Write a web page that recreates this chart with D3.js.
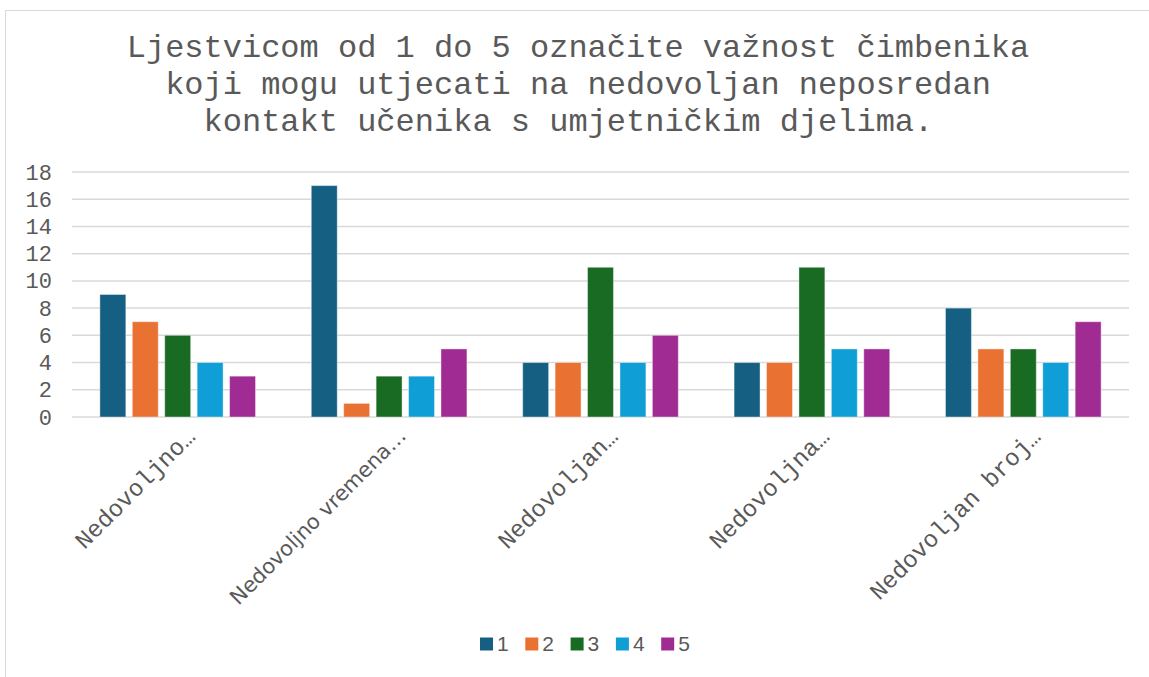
<!DOCTYPE html>
<html>
<head>
<meta charset="utf-8">
<script src="https://cdn.jsdelivr.net/npm/d3@7"></script>
<style>
  body { margin: 0; background: #fff; }
  text { fill: #595959; }
</style>
</head>
<body>
<div id="chart-area"></div>
<script>
var width = 1149,
    height = 677;

var titleLines = [
    "Ljestvicom od 1 do 5 označite važnost čimbenika",
    "koji mogu utjecati na nedovoljan neposredan",
    "kontakt učenika s umjetničkim djelima. "
];
var categories = ["Nedovoljno…", "Nedovoljno vremena…", "Nedovoljan…", "Nedovoljna…", "Nedovoljan broj…"];
var seriesNames = ["1", "2", "3", "4", "5"];
var values = [
    [9, 7, 6, 4, 3],
    [17, 1, 3, 3, 5],
    [4, 4, 11, 4, 6],
    [4, 4, 11, 5, 5],
    [8, 5, 5, 4, 7]
];
var yTicks = [0, 2, 4, 6, 8, 10, 12, 14, 16, 18];
var colors = ["#156082", "#e97132", "#196b24", "#0f9ed5", "#a02b93"];

var mono = "'Liberation Mono', 'DejaVu Sans Mono', monospace";

var svg = d3.select("#chart-area").append("svg")
    .attr("width", width)
    .attr("height", height);

// chart frame
svg.append("rect")
    .attr("x", 5.5).attr("y", 10.5)
    .attr("width", width).attr("height", height)
    .attr("fill", "none")
    .attr("stroke", "#d9d9d9");

// title (last line keeps its trailing space, like the original)
svg.append("text")
    .attr("text-anchor", "middle")
    .style("font-family", mono)
    .style("font-size", "32px")
    .style("white-space", "pre")
    .selectAll("tspan")
    .data(titleLines)
    .enter().append("tspan")
    .attr("x", 578)
    .attr("y", (d, i) => 57 + i * 37)
    .text(d => d);

var x0 = d3.scaleBand()
    .domain(categories)
    .range([72, 1129]);

var x1 = d3.scaleBand()
    .domain(seriesNames)
    .range([0, x0.bandwidth()])
    .paddingInner(0.2)
    .paddingOuter(0.86);

var y = d3.scaleLinear()
    .domain([0, 18])
    .range([417, 172]);

// gridlines
svg.append("g")
    .selectAll("line")
    .data(yTicks)
    .enter().append("line")
    .attr("x1", 72).attr("x2", 1129)
    .attr("y1", d => y(d)).attr("y2", d => y(d))
    .attr("stroke", "#d9d9d9")
    .attr("stroke-width", 1.5);

// y axis labels
var yAxis = d3.axisLeft(y).tickValues(yTicks).tickSize(0).tickPadding(0);
svg.append("g")
    .attr("transform", "translate(52,0)")
    .call(yAxis)
    .call(g => g.select(".domain").remove())
    .selectAll("text")
    .style("font-family", mono)
    .style("font-size", "22px")
    .attr("fill", "#595959");

// bars
var groups = svg.append("g")
    .selectAll("g")
    .data(values)
    .enter().append("g")
    .attr("transform", (d, i) => "translate(" + x0(categories[i]) + ",0)");

groups.selectAll("rect")
    .data(d => d.map((v, j) => ({ key: seriesNames[j], value: v, idx: j })))
    .enter().append("rect")
    .attr("x", d => x1(d.key))
    .attr("y", d => y(d.value))
    .attr("width", x1.bandwidth())
    .attr("height", d => y(0) - y(d.value))
    .attr("fill", d => colors[d.idx])
    .attr("stroke", "#ffffff")
    .attr("stroke-opacity", 0.4)
    .attr("stroke-width", 1);

// x labels
svg.append("g")
    .selectAll("text")
    .data(categories)
    .enter().append("text")
    .attr("text-anchor", "end")
    .attr("transform", d => "translate(" + (x0(d) + x0.bandwidth() / 2 + 13) + ",432) rotate(-45)")
    .attr("dy", "0.35em")
    .style("font-family", (d, i) => i === 1 ? "'DejaVu Sans', sans-serif" : mono)
    .style("font-size", (d, i) => i === 1 ? "21px" : "24px")
    .text(d => d);

// legend
var legend = svg.append("g")
    .selectAll("g")
    .data(seriesNames)
    .enter().append("g")
    .attr("transform", (d, i) => "translate(" + (480 + i * 45.3) + ",644)");

legend.append("rect")
    .attr("x", 0).attr("y", -6.5)
    .attr("width", 13).attr("height", 13)
    .attr("fill", (d, i) => colors[i]);

legend.append("text")
    .attr("x", 17)
    .attr("dy", "0.35em")
    .style("font-family", "'Liberation Sans', Arial, sans-serif")
    .style("font-size", "21px")
    .text(d => d);
</script>
</body>
</html>
